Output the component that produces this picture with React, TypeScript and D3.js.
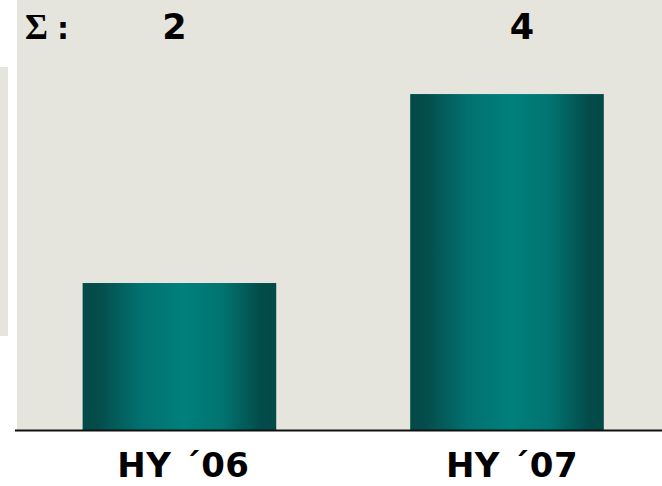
import React from "react";
import * as d3 from "d3";

const categories = ["HY ´06", "HY ´07"];
const values = [1.75, 4.0];
const totalLabels = ["2", "4"];
const sumSymbol = "Σ";

const W = 662;
const H = 486;

export default function App() {
  const baseY = 430;
  const x = d3
    .scaleBand<string>()
    .domain(categories)
    .range([17, W])
    .paddingInner(0.409)
    .paddingOuter(0.189)
    .align(0.53);
  const y = d3.scaleLinear().domain([0, 5.12]).range([baseY, 0]);

  const bold = "'DejaVu Sans', Verdana, sans-serif";

  return (
    <svg
      width={W}
      height={H}
      style={{ position: "absolute", left: 0, top: 0, background: "#ffffff" }}
    >
      <defs>
        <linearGradient id="barGrad" x1="0" x2="1" y1="0" y2="0">
          <stop offset="0" stopColor="#024a48" />
          <stop offset="0.08" stopColor="#044d4b" />
          <stop offset="0.3" stopColor="#027170" />
          <stop offset="0.52" stopColor="#00807c" />
          <stop offset="0.72" stopColor="#017471" />
          <stop offset="0.92" stopColor="#034c4a" />
          <stop offset="1" stopColor="#024a48" />
        </linearGradient>
      </defs>
      <rect x={0} y={67} width={8} height={269} fill="#e5e4dd" />
      <rect x={17} y={0} width={W - 17} height={baseY} fill="#e5e4dd" />
      {categories.map((c, i) => (
        <rect
          key={c}
          x={x(c)}
          y={y(values[i])}
          width={x.bandwidth()}
          height={baseY - y(values[i])}
          fill="url(#barGrad)"
        />
      ))}
      <line x1={15} x2={W} y1={baseY + 0.5} y2={baseY + 0.5} stroke="#111" strokeWidth={2} />
      <text
        x={25}
        y={39}
        fontFamily="'Liberation Serif', 'Times New Roman', serif"
        fontWeight="bold"
        fontSize={35}
        fill="#000"
      >
        {sumSymbol}
      </text>
      <text x={57} y={39} fontFamily={bold} fontWeight="bold" fontSize={30} fill="#000">
        :
      </text>
      {categories.map((c, i) => (
        <text
          key={"t" + c}
          x={(x(c) as number) + x.bandwidth() / 2 + (i === 0 ? -5 : 15)}
          y={39}
          textAnchor="middle"
          fontFamily={bold}
          fontWeight="bold"
          fontSize={35}
          fill="#000"
        >
          {totalLabels[i]}
        </text>
      ))}
      {categories.map((c, i) => (
        <text
          key={"l" + c}
          x={(x(c) as number) + x.bandwidth() / 2 + (i === 0 ? 4 : 5)}
          y={477}
          textAnchor="middle"
          fontFamily={bold}
          fontWeight="bold"
          fontSize={34}
          letterSpacing={0.5}
          fill="#000"
        >
          {c}
        </text>
      ))}
    </svg>
  );
}
